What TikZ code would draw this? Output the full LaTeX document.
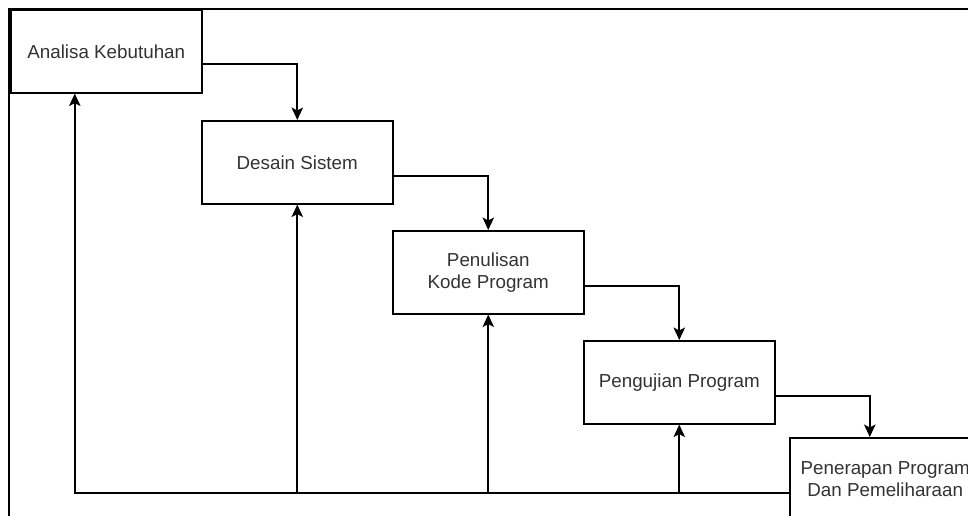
\documentclass[tikz,border=0pt]{standalone}
\usepackage{fontspec}
\setmainfont{Liberation Sans}
\usetikzlibrary{arrows.meta,calc}
\begin{document}
\begin{tikzpicture}[x=0.02cm,y=-0.02cm,
  stagebox/.style={draw=black,line width=0.9pt,rectangle,anchor=north west,
    minimum width=3.82cm,minimum height=1.66cm,inner sep=0pt,
    font=\fontsize{10.7pt}{12.6pt}\selectfont,text=black!80,align=center},
  link/.style={draw=black,line width=0.9pt,-{Stealth[length=0.25cm,width=0.23cm,inset=0.06cm]}},
  plainline/.style={draw=black,line width=0.9pt}]
\useasboundingbox (0,0) rectangle (968,515);
\clip (0,0) rectangle (968,515);
\fill[white] (0,0) rectangle (968,515);
% outer frame (cropped)
\draw[plainline] (9,520) -- (9,9) -- (975,9);
\node[stagebox] (a) at (10,9) {Analisa Kebutuhan};
\node[stagebox] (b) at (201,120) {Desain Sistem};
\node[stagebox] (c) at (392,230) {Penulisan\\Kode Program};
\node[stagebox] (d) at (583,340) {Pengujian Program};
\node[stagebox] (e) at (789,437) {Penerapan Program\\Dan Pemeliharaan};
% forward flow
\draw[link] ([yshift=-1.1cm]a.north east) -| (b.north);
\draw[link] ([yshift=-1.12cm]b.north east) -| (c.north);
\draw[link] ([yshift=-1.12cm]c.north east) -| (d.north);
\draw[link] ([yshift=-1.12cm]d.north east) -| ([xshift=-0.31cm]e.north);
% feedback
\coordinate (fb) at ([yshift=-0.27cm]e.west);
\coordinate (fa) at ([xshift=-0.63cm]a.south);
\draw[link] (fb) -| (fa);
\draw[link] (b.south |- fb) -- (b.south);
\draw[link] (c.south |- fb) -- (c.south);
\draw[link] (d.south |- fb) -- (d.south);
\end{tikzpicture}
\end{document}
